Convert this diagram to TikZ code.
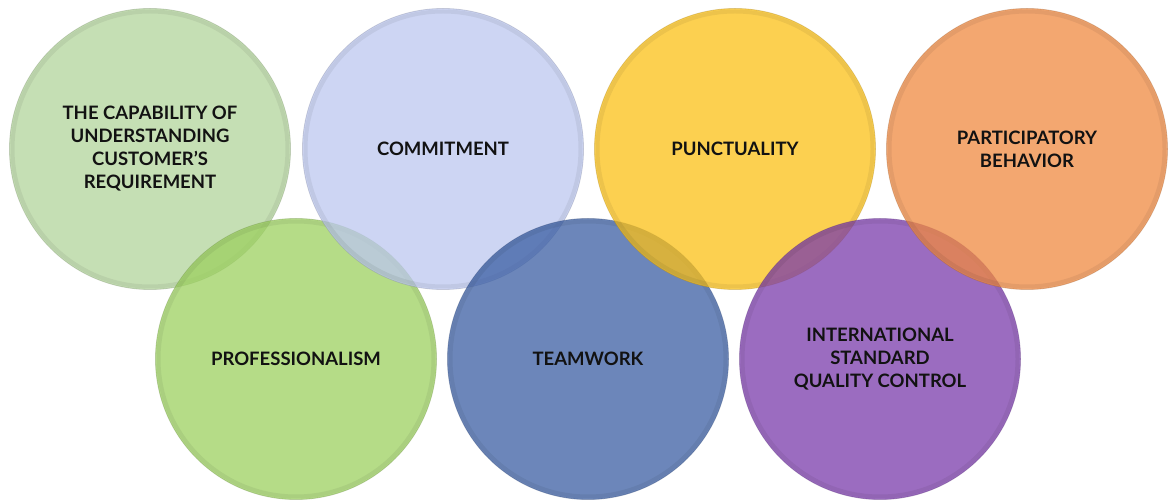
\documentclass[tikz,border=0pt]{standalone}
\usepackage{fontspec}
\setmainfont{Lato}
\usetikzlibrary{positioning}

\definecolor{capgreen}{HTML}{B2D49B}
\definecolor{progreen}{HTML}{9CD05F}
\definecolor{comblue}{HTML}{BCC7EF}
\definecolor{teamblue}{HTML}{3B5EA3}
\definecolor{punyellow}{HTML}{FBC016}
\definecolor{isopurple}{HTML}{7A3BAB}
\definecolor{parorange}{HTML}{EF8940}

\begin{document}
\begin{tikzpicture}[x=1pt,y=-1pt,
  bubble/.style={circle,minimum size=281pt,inner sep=0pt,align=center,
    fill opacity=0.75,text opacity=1,draw opacity=0.4,line width=0.8pt,
    font=\fontsize{18.5}{23}\selectfont\bfseries,text=black!93}]
\useasboundingbox (0,0) rectangle (1168,502);
% circles from left to right, each one laid over the one before
\foreach\name/\px/\py/\col/\txt in {
  capability/150/149/capgreen/{THE CAPABILITY OF\\UNDERSTANDING\\CUSTOMER’S\\REQUIREMENT},
  profession/296/359/progreen/{PROFESSIONALISM},
  commitment/443/149/comblue/{COMMITMENT},
  teamwork/588/359/teamblue/{TEAMWORK},
  punctual/735/149/punyellow/{PUNCTUALITY},
  isoquality/880/359/isopurple/{INTERNATIONAL\\STANDARD\\QUALITY CONTROL},
  participate/1027/149/parorange/{PARTICIPATORY\\BEHAVIOR}} {
\node[bubble,fill=\col,draw=\col!70!black] (\name) at (\px,\py) {\txt};
\draw[black,opacity=0.06,line width=4pt] (\name.center) circle (137.5pt);
}
\end{tikzpicture}
\end{document}
